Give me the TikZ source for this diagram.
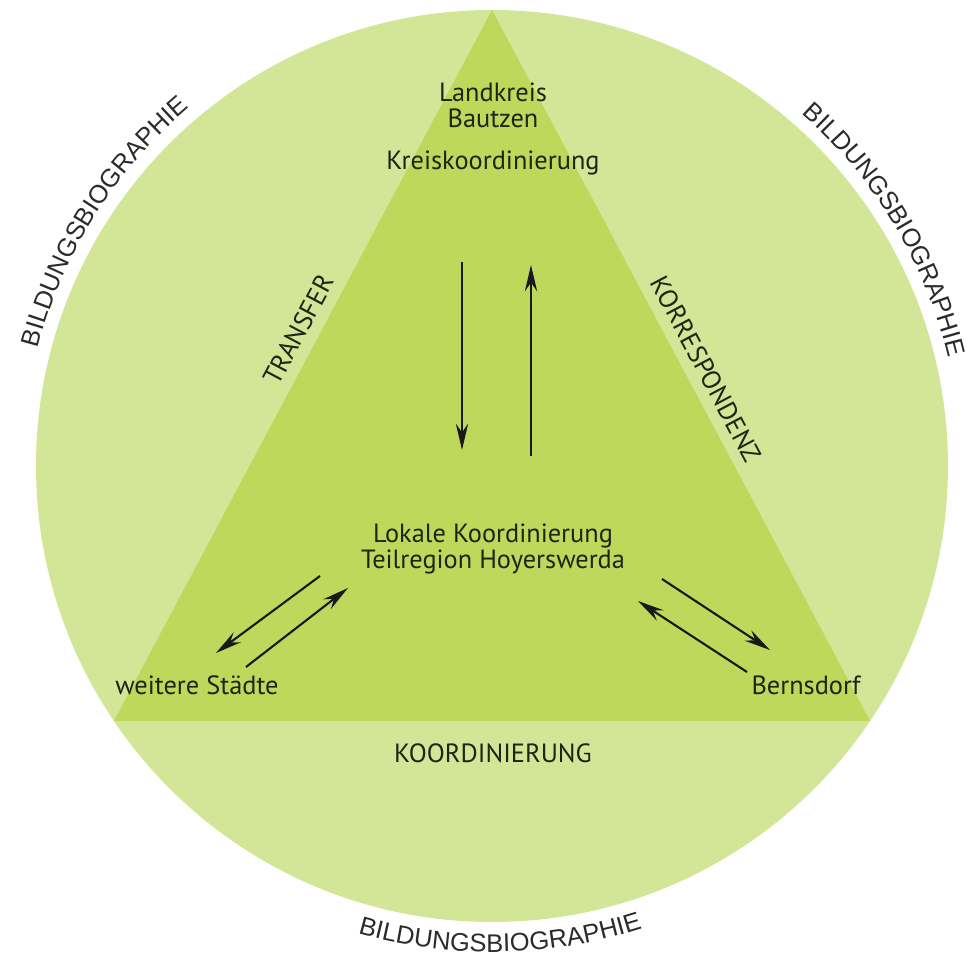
\documentclass[tikz,border=0pt]{standalone}
\usepackage{fontspec}
\setmainfont{PT Sans}
\newfontfamily\rimfont{Liberation Sans}
\usetikzlibrary{arrows.meta,decorations.text}
\definecolor{ringgreen}{HTML}{D3E596}
\definecolor{coregreen}{HTML}{BDD85B}
\definecolor{labeltext}{HTML}{1C2614}
\definecolor{rimtext}{HTML}{2B2B2B}
\tikzset{
  place/.style={
    text=labeltext,
    align=center,
    inner sep=2pt,
    font=\fontsize{15}{15}\selectfont
  },
  edgelabel/.style={
    text=labeltext,
    sloped,
    inner sep=2pt,
    font=\fontsize{15}{15}\selectfont
  },
  flow/.style={-{Stealth[length=15pt,width=7pt,inset=5pt]},line width=1.2pt,draw=black!90},
  rim/.style={
    decorate,
    decoration={
      text along path,
      text align=center,
      text color=rimtext,
      text={|\rimfont\fontsize{14.5}{14.5}\selectfont|BILDUNGSBIOGRAPHIE}
    }
  }
}

\begin{document}
\begin{tikzpicture}
  \useasboundingbox (-9.84,-9.8) rectangle (9.48,9.32);

  \coordinate (apex) at (90:9.12);
  \coordinate (leftfoot) at (214:9.12);
  \coordinate (rightfoot) at (326:9.12);

  \fill[ringgreen] (0,0) circle[radius=9.12];
  \fill[coregreen] (apex) -- (leftfoot) -- (rightfoot) -- cycle;

  \node[place] (landkreis) at (0.02,7.21) {Landkreis\\Bautzen};
  \node[place] (kreis) at (0.02,6.06) {Kreiskoordinierung};
  \node[place] (lokal) at (0.02,-1.66) {Lokale Koordinierung\\Teilregion Hoyerswerda};
  \node[place] (staedte) at (-5.9,-4.38) {weitere Städte};
  \node[place] (bernsdorf) at (6.28,-4.38) {Bernsdorf};
  \node[place] (koord) at (0.02,-5.74) {KOORDINIERUNG};

  \path (leftfoot) -- (apex) node[edgelabel, pos=0.537, above=4pt] (transfer) {TRANSFER};
  \path (apex) -- (rightfoot) node[edgelabel, pos=0.519, above=4pt] (korresp) {KORRESPONDENZ};

  % Kreis <-> lokal
  \coordinate (downtail) at (-0.6,4.08);
  \coordinate (downtip) at (-0.6,0.32);
  \coordinate (uptail) at (0.78,0.2);
  \coordinate (uptip) at (0.78,4.02);
  \draw[flow] (downtail) -- (downtip);
  \draw[flow] (uptail) -- (uptip);

  % lokal <-> weitere Staedte
  \coordinate (wouttail) at (-3.44,-2.2);
  \coordinate (wouttip) at (-5.52,-3.74);
  \coordinate (wintail) at (-4.92,-4.02);
  \coordinate (wintip) at (-2.88,-2.44);
  \draw[flow] (wouttail) -- (wouttip);
  \draw[flow] (wintail) -- (wintip);

  % lokal <-> Bernsdorf
  \coordinate (bouttail) at (3.4,-2.26);
  \coordinate (bouttip) at (5.56,-3.68);
  \coordinate (bintail) at (5.1,-4.12);
  \coordinate (bintip) at (2.92,-2.7);
  \draw[flow] (bouttail) -- (bouttip);
  \draw[flow] (bintail) -- (bintip);

  \path[rim] (177.8:9.38) arc[start angle=177.8, end angle=117.8, radius=9.38];
  \path[rim] (61:9.38) arc[start angle=61, end angle=1, radius=9.38];
  \path[rim] (241:9.72) arc[start angle=241, end angle=301, radius=9.72];
\end{tikzpicture}
\end{document}
